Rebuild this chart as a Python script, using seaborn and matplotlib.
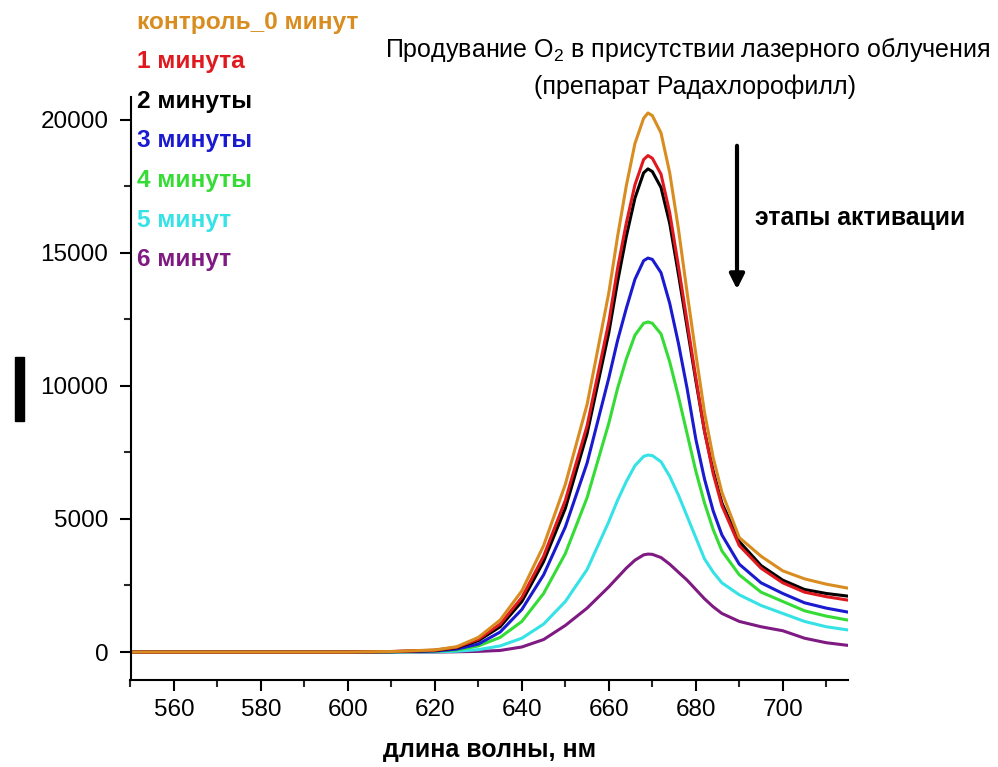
import numpy as np
import pandas as pd
import matplotlib
matplotlib.use('Agg')
import matplotlib.pyplot as plt
from matplotlib.patches import Rectangle
from matplotlib.ticker import MultipleLocator
import seaborn as sns

# длины волн (нм), в которых сняты значения с исходного графика
wl = [550, 560, 580, 600, 610, 620, 625, 630, 635, 640, 645, 650, 655, 660, 662, 664, 666,
      668, 669, 670, 672, 674, 676, 678, 680, 682, 684, 686, 690, 695, 700, 705, 710, 715]

control = [0, 0, 0, 0, 20, 80, 200, 550, 1200, 2300, 4000, 6300, 9300, 13500, 15600, 17500, 19100,
           20050, 20250, 20150, 19500, 18000, 15900, 13500, 11200, 9000, 7300, 6000, 4300, 3600, 3050, 2750, 2550, 2400]
min1 = [0, 0, 0, 0, 20, 70, 180, 480, 1050, 2050, 3600, 5700, 8500, 12400, 14400, 16100, 17550,
        18500, 18650, 18550, 17950, 16500, 14500, 12400, 10300, 8300, 6700, 5500, 4000, 3150, 2600, 2250, 2080, 1950]
min2 = [0, 0, 0, 0, 15, 60, 160, 430, 950, 1900, 3400, 5400, 8200, 12000, 13900, 15600, 17050,
        18000, 18150, 18050, 17450, 16100, 14200, 12200, 10200, 8300, 6800, 5600, 4150, 3250, 2700, 2350, 2200, 2100]
min3 = [0, 0, 0, 0, 10, 40, 110, 300, 750, 1600, 2900, 4700, 7100, 10300, 11700, 12900, 14000,
        14700, 14800, 14750, 14250, 13100, 11600, 9900, 8000, 6500, 5300, 4400, 3300, 2600, 2200, 1850, 1650, 1500]
min4 = [0, 0, 0, 0, 8, 30, 80, 230, 550, 1150, 2200, 3700, 5800, 8600, 9900, 11000, 11900,
        12350, 12400, 12350, 11950, 10900, 9600, 8200, 6800, 5600, 4600, 3800, 2900, 2250, 1900, 1550, 1350, 1200]
min5 = [0, 0, 0, 0, 0, 10, 30, 90, 230, 520, 1050, 1900, 3100, 4900, 5700, 6400, 7000,
        7350, 7400, 7380, 7150, 6600, 5900, 5100, 4300, 3500, 3000, 2600, 2150, 1750, 1450, 1150, 950, 830]
min6 = [0, 0, 0, 0, 0, 0, 10, 25, 60, 190, 470, 1000, 1650, 2450, 2800, 3150, 3450,
        3650, 3680, 3670, 3550, 3300, 3000, 2700, 2350, 2000, 1700, 1450, 1150, 950, 800, 520, 350, 250]

labels = ['контроль_0 минут', '1 минута', '2 минуты', '3 минуты',
          '4 минуты', '5 минут', '6 минут']
colors = ['#D98C1F', '#E0191E', '#000000', '#1A1AD0', '#35DC35', '#35E2E6', '#7E1A82']
series = [control, min1, min2, min3, min4, min5, min6]

df = pd.concat([pd.DataFrame({'wl': wl, 'I': s, 'time': lab})
                for s, lab in zip(series, labels)], ignore_index=True)

sns.set_style('ticks')
plt.rcParams['font.family'] = ['Liberation Sans', 'DejaVu Sans']
plt.rcParams['text.color'] = 'black'
plt.rcParams['axes.labelcolor'] = 'black'
plt.rcParams['mathtext.fontset'] = 'custom'
plt.rcParams['mathtext.rm'] = 'Liberation Sans'
plt.rcParams['mathtext.it'] = 'Liberation Sans'

fig = plt.figure(figsize=(9.98, 7.67), dpi=100)
ax = fig.add_axes([130.5/998, 1-680/767, (848-130.5)/998, (680-97)/767])

# фиолетовая снизу, контроль сверху
sns.lineplot(data=df, x='wl', y='I', hue='time', hue_order=labels[::-1],
             palette=dict(zip(labels, colors)), linewidth=2.2, legend=False, ax=ax)

ax.set_xlim(550, 715)
ax.set_ylim(-1050, 20850)
ax.xaxis.set_major_locator(MultipleLocator(20))
ax.xaxis.set_minor_locator(MultipleLocator(10))
ax.yaxis.set_major_locator(MultipleLocator(5000))
ax.yaxis.set_minor_locator(MultipleLocator(2500))
ax.set_xticks(np.arange(560, 716, 20))
for sp in ['top', 'right']:
    ax.spines[sp].set_visible(False)
for sp in ['left', 'bottom']:
    ax.spines[sp].set_linewidth(1.5)
    ax.spines[sp].set_color('black')
ax.tick_params(which='major', length=8, width=1.5, labelsize=17.5, colors='black')
ax.tick_params(which='minor', length=5, width=1.5)
ax.tick_params(axis='y', which='major', pad=8)
ax.tick_params(axis='x', which='major', pad=6)
ax.set_xlabel('длина волны, нм', fontsize=18, fontweight='bold', labelpad=12)
ax.set_ylabel('')

# легенда цветным текстом
for i, (lab, c) in enumerate(zip(labels, colors)):
    fig.text(137/998, 1-(22+39.6*i)/767, lab, color=c, fontsize=17.6,
             fontweight='bold', va='center', ha='left')

fig.text(688/998, 1-50/767, 'Продувание O$_2$ в присутствии лазерного облучения',
         fontsize=18, ha='center', va='center')
fig.text(695/998, 1-87/767, '(препарат Радахлорофилл)', fontsize=18,
         ha='center', va='center')

ax.annotate('', xy=(737/998, 1-292/767), xytext=(737/998, 1-143/767),
            xycoords='figure fraction', textcoords='figure fraction',
            arrowprops=dict(arrowstyle='-|>', color='black', lw=3, mutation_scale=22))
fig.text(755/998, 1-218/767, 'этапы активации', fontsize=17.8, fontweight='bold',
         va='center', ha='left')

# закрашенная подпись оси Y
fig.add_artist(Rectangle((15/998, 1-421/767), 9/998, 64/767,
                         transform=fig.transFigure, color='black'))

fig.savefig('out.png', dpi=100)
